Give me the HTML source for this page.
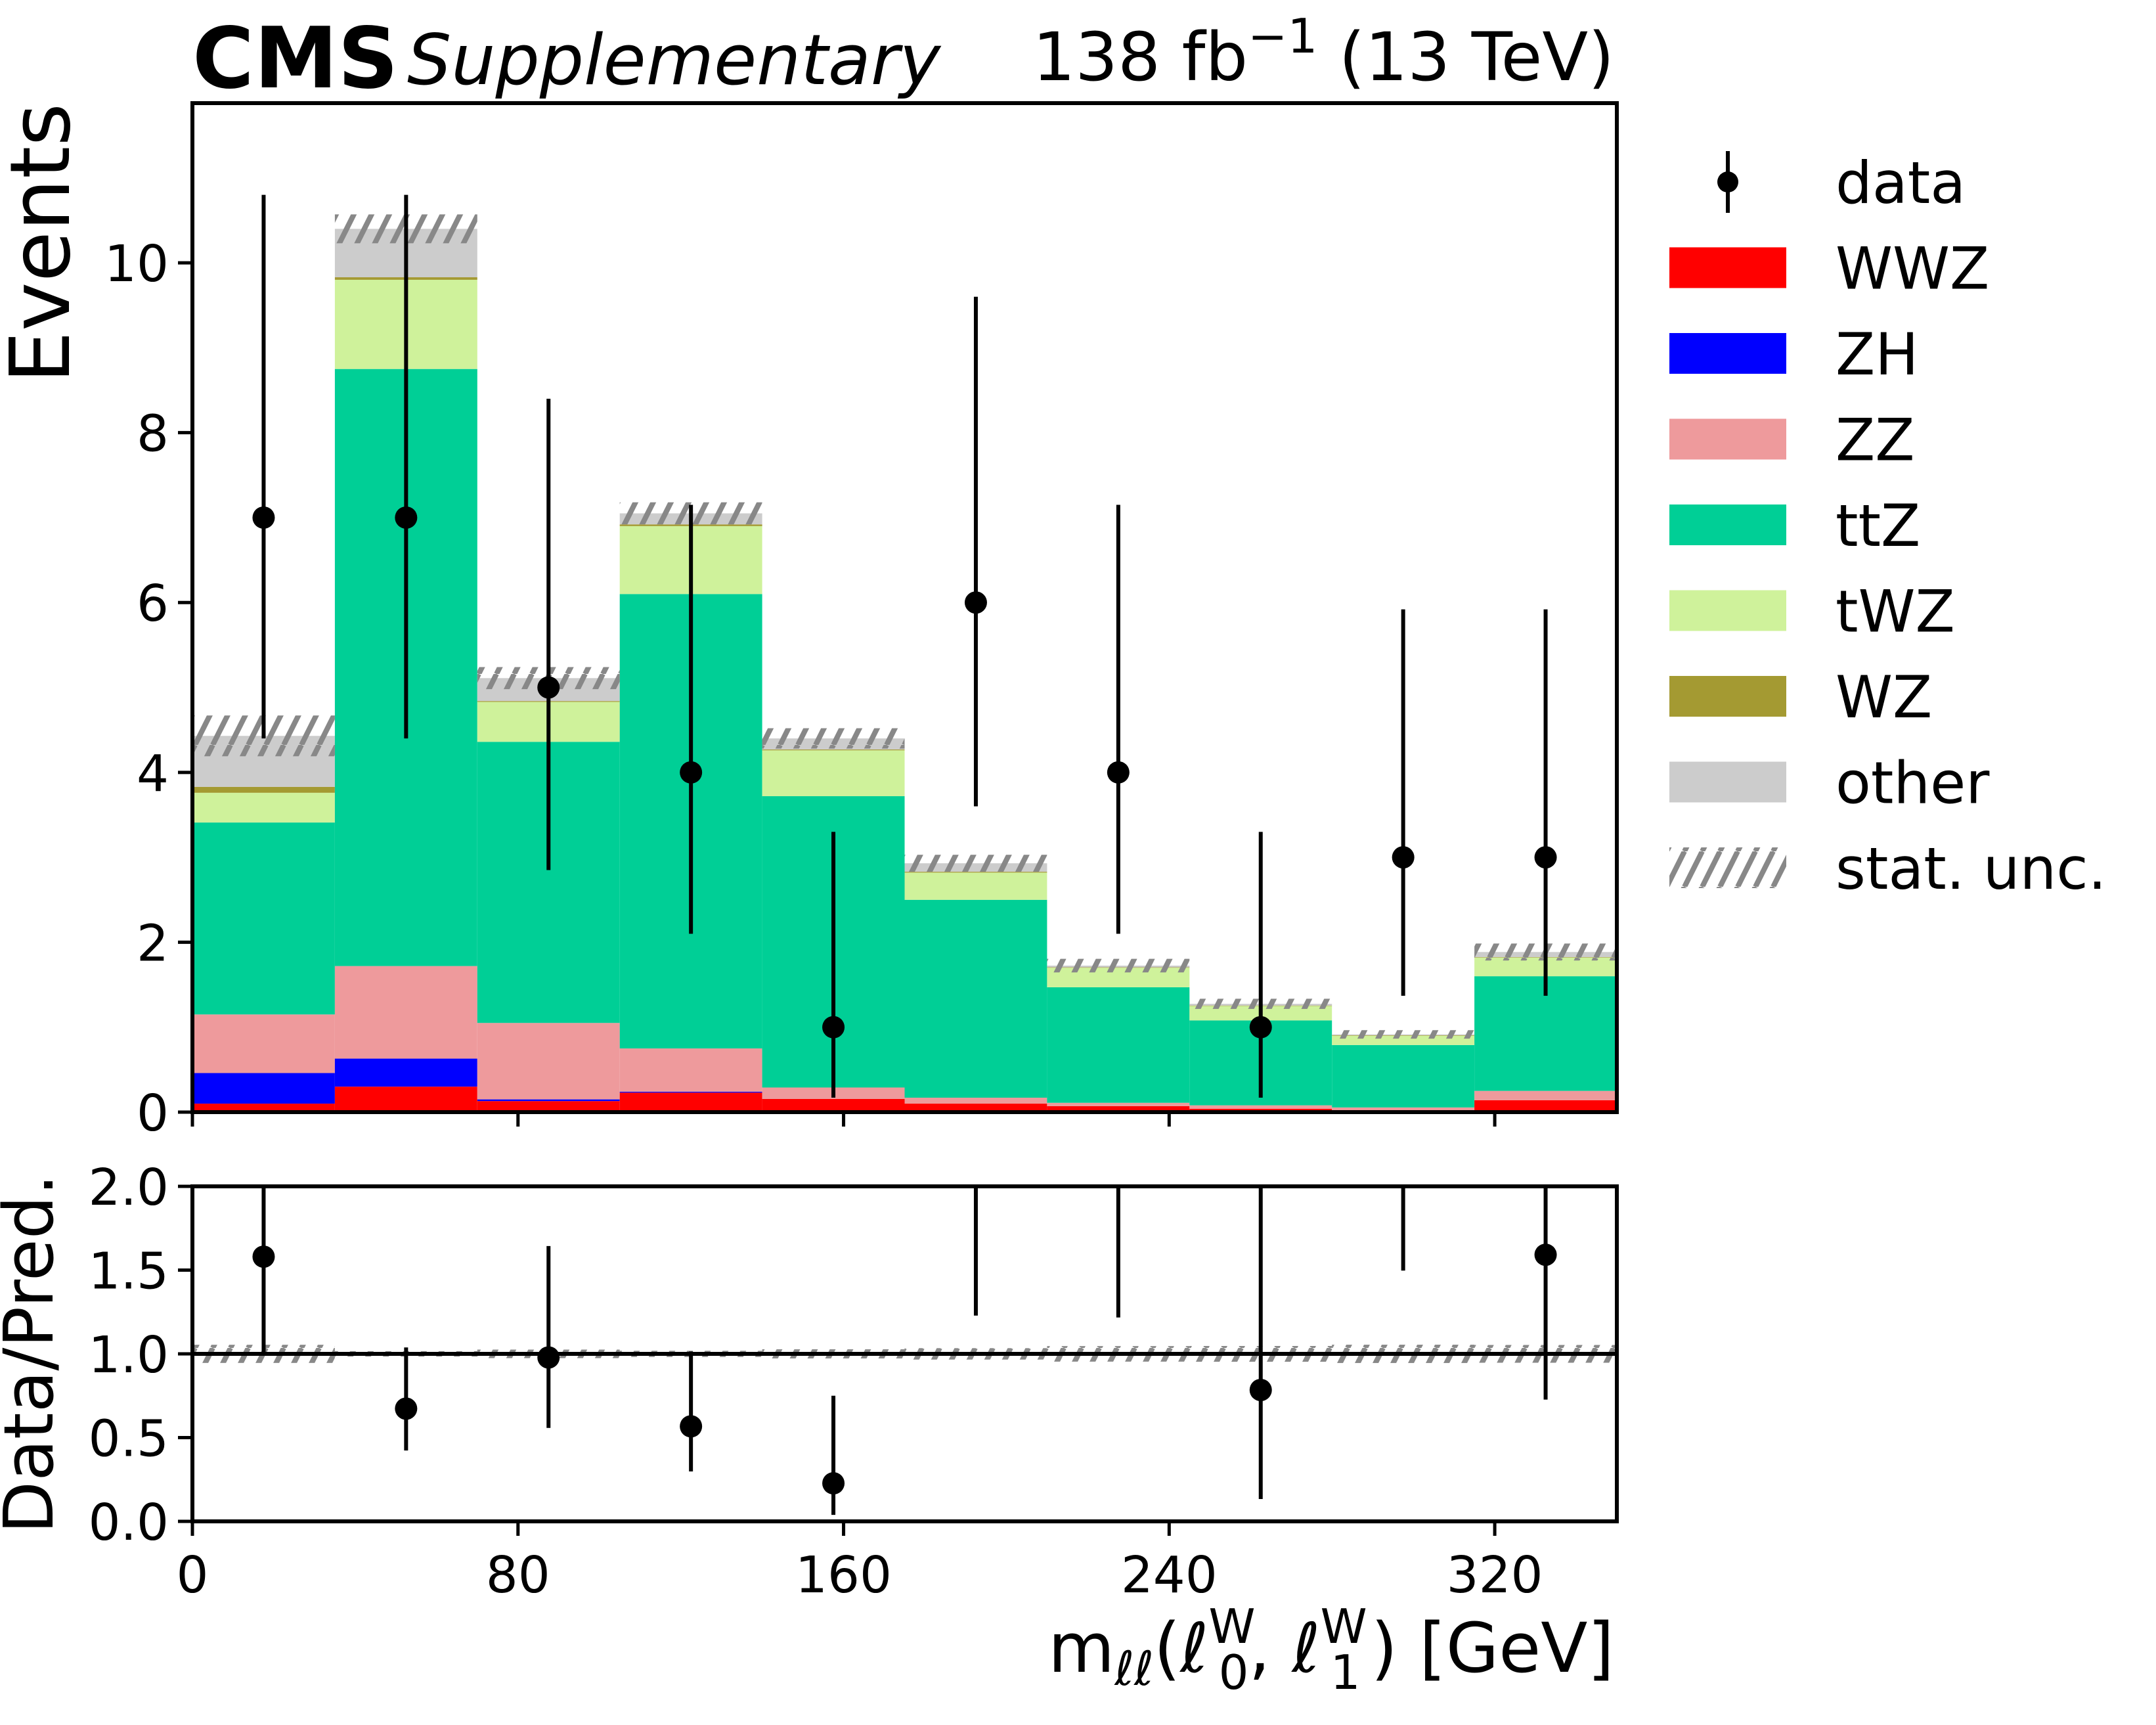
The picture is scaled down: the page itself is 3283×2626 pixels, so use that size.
<!DOCTYPE html>
<html><head><meta charset="utf-8"><style>
html,body{margin:0;padding:0;background:#fff;}
svg{display:block;font-family:"DejaVu Sans","Liberation Sans",sans-serif;}
</style></head><body>
<svg id="chart" xmlns="http://www.w3.org/2000/svg" width="3283" height="2626" viewBox="0 0 3283 2626">
<defs>
<pattern id="hatch" patternUnits="userSpaceOnUse" width="27" height="54">
<g stroke="#888" stroke-width="8" stroke-linecap="butt">
<line x1="0" y1="54" x2="27" y2="0"/><line x1="-27" y1="54" x2="0" y2="0"/><line x1="27" y1="54" x2="54" y2="0"/>
</g></pattern>
<clipPath id="clipMain"><rect x="293" y="157" width="2169" height="1536"/></clipPath>
<clipPath id="clipRatio"><rect x="293" y="1806" width="2169" height="510"/></clipPath>
</defs>
<g id="main"></g>
<g id="ratio"></g>
<g id="legend"></g>
<text x="293" y="133" font-size="128" font-weight="bold">CMS</text>
<text x="620" y="128" font-size="106" font-style="italic">Supplementary</text>
<text x="2458" y="122" font-size="102" text-anchor="end">138 fb<tspan font-size="72" dy="-42">−1</tspan><tspan dy="42"> (13 TeV)</tspan></text>
<text transform="translate(105,157) rotate(-90)" font-size="126" text-anchor="end">Events</text>
<text transform="translate(80,2061) rotate(-90)" font-size="104" text-anchor="middle">Data/Pred.</text>
<text x="2458" y="2545" font-size="104" text-anchor="end">m<tspan font-size="72" dy="20" font-style="italic">ℓℓ</tspan><tspan dy="-20">(</tspan><tspan font-style="italic">ℓ</tspan><tspan font-size="72" dx="0" dy="-44">W</tspan><tspan font-size="72" dx="-56" dy="70">0</tspan><tspan dy="-26">,  </tspan><tspan font-style="italic">ℓ</tspan><tspan font-size="72" dy="-44">W</tspan><tspan font-size="72" dx="-56" dy="70">1</tspan><tspan dx="16" dy="-26">) [GeV]</tspan></text>
</svg>
<script>
const binEdges = [0,35,70,105,140,175,210,245,280,315,350];
const dataCounts = [7,7,5,4,1,6,4,1,3,3];
const dataErrLow = [2.6,2.6,2.15,1.9,0.83,2.4,1.9,0.83,1.63,1.63];
const dataErrHigh = [3.8,3.8,3.4,3.15,2.3,3.6,3.15,2.3,2.92,2.92];
const wwz = [0.10,0.30,0.13,0.23,0.155,0.10,0.07,0.04,0.025,0.14];
const zh = [0.36,0.33,0.02,0.01,0,0,0,0,0,0];
const zz = [0.69,1.09,0.90,0.51,0.135,0.07,0.04,0.04,0.03,0.11];
const ttz = [2.26,7.03,3.31,5.35,3.43,2.33,1.36,1.00,0.735,1.35];
const twz = [0.35,1.05,0.47,0.80,0.54,0.32,0.23,0.17,0.11,0.22];
const wz = [0.07,0.03,0.01,0.02,0.01,0.01,0.005,0.005,0.005,0.005];
const other = [0.60,0.57,0.27,0.13,0.13,0.10,0.02,0.02,0.01,0.06];
const statErr = [0.24,0.17,0.13,0.13,0.12,0.10,0.08,0.06,0.05,0.10];
const xTicks = [0,80,160,240,320];
const yTicks = [0,2,4,6,8,10];
const ratioTicks = [0,0.5,1.0,1.5,2.0];
const ratioTickLabels = ["0.0","0.5","1.0","1.5","2.0"];

const NS="http://www.w3.org/2000/svg";
const X0=293,X1=2462,MT=157,MB=1693,RT=1806,RB=2316;
const XMAX=350,YMAX=11.88,RMIN=0,RMAX=2;
const xs=v=>X0+(v/XMAX)*(X1-X0);
const ys=v=>MB-(v/YMAX)*(MB-MT);
const rs=v=>RB-((v-RMIN)/(RMAX-RMIN))*(RB-RT);
function mk(tag,attrs,parent){const e=document.createElementNS(NS,tag);for(const k in attrs)e.setAttribute(k,attrs[k]);parent.appendChild(e);return e;}
const main=document.getElementById('main'),ratio=document.getElementById('ratio'),legend=document.getElementById('legend');
const procs=[["WWZ",wwz,"#ff0000"],["ZH",zh,"#0000ff"],["ZZ",zz,"#ee9a9c"],["ttZ",ttz,"#00cf96"],["tWZ",twz,"#cff29b"],["WZ",wz,"#a49a32"],["other",other,"#cccccc"]];
const gm=mk('g',{'clip-path':'url(#clipMain)'},main);
const totals=[];
for(let i=0;i<dataCounts.length;i++){
  let cum=0;const xa=xs(binEdges[i]),xb=xs(binEdges[i+1]);
  procs.forEach(p=>{const v=p[1][i];if(v<=0)return;
    const r=mk('rect',{x:xa,y:ys(cum+v),width:xb-xa,height:ys(cum)-ys(cum+v),fill:p[2]},gm);
    
    
    cum+=v;});
  totals.push(cum);
}
for(let i=0;i<totals.length;i++){
  const xa=xs(binEdges[i]),xb=xs(binEdges[i+1]);
  const h=mk('rect',{x:xa,y:ys(totals[i]+statErr[i]),width:xb-xa,height:ys(totals[i]-statErr[i])-ys(totals[i]+statErr[i]),fill:'url(#hatch)'},gm);
  
  
  const rh=mk('rect',{x:xa,y:rs(1+statErr[i]/totals[i]),width:xb-xa,height:rs(1-statErr[i]/totals[i])-rs(1+statErr[i]/totals[i]),fill:'url(#hatch)'},ratio);
  
  
}
mk('line',{x1:X0,y1:rs(1),x2:X1,y2:rs(1),stroke:'#000','stroke-width':6},ratio);
const gr=mk('g',{'clip-path':'url(#clipRatio)'},ratio);
for(let i=0;i<dataCounts.length;i++){
  const cx=xs((binEdges[i]+binEdges[i+1])/2);
  const d=dataCounts[i];
  const el=mk('line',{x1:cx,y1:ys(d-dataErrLow[i]),x2:cx,y2:ys(d+dataErrHigh[i]),stroke:'#000','stroke-width':6},main);
  
  
  const pt=mk('circle',{cx:cx,cy:ys(d),r:17,fill:'#000'},main);
  
  
  const t=totals[i],rv=d/t;
  const rl=mk('line',{x1:cx,y1:rs(Math.max(rv-dataErrLow[i]/t,-1)),x2:cx,y2:rs(Math.min(rv+dataErrHigh[i]/t,3)),stroke:'#000','stroke-width':6},gr);
  
  
  if(rv<=RMAX){const rp=mk('circle',{cx:cx,cy:rs(rv),r:17,fill:'#000'},gr);
    
    }
}
const f1=mk('rect',{x:X0,y:MT,width:X1-X0,height:MB-MT,fill:'none',stroke:'#000','stroke-width':6},main);

const f2=mk('rect',{x:X0,y:RT,width:X1-X0,height:RB-RT,fill:'none',stroke:'#000','stroke-width':6},ratio);

yTicks.forEach(v=>{const y=ys(v);mk('line',{x1:X0-22,y1:y,x2:X0,y2:y,stroke:'#000','stroke-width':5},main);
  const t=mk('text',{x:X0-36,y:y+28,'font-size':77,'text-anchor':'end'},main);t.textContent=v;
  });
ratioTicks.forEach((v,k)=>{const y=rs(v);mk('line',{x1:X0-22,y1:y,x2:X0,y2:y,stroke:'#000','stroke-width':5},ratio);
  const t=mk('text',{x:X0-36,y:y+28,'font-size':77,'text-anchor':'end'},ratio);t.textContent=ratioTickLabels[k];
  });
xTicks.forEach(v=>{const x=xs(v);mk('line',{x1:x,y1:MB,x2:x,y2:MB+22,stroke:'#000','stroke-width':5},main);
  mk('line',{x1:x,y1:RB,x2:x,y2:RB+22,stroke:'#000','stroke-width':5},ratio);
  const t=mk('text',{x:x,y:2424,'font-size':77,'text-anchor':'middle'},ratio);t.textContent=v;
  });
const LY0=277,LDY=130.5;
const items=[["data",null],["WWZ","#ff0000"],["ZH","#0000ff"],["ZZ","#ee9a9c"],["ttZ","#00cf96"],["tWZ","#cff29b"],["WZ","#a49a32"],["other","#cccccc"],["stat. unc.","url(#hatch)"]];
items.forEach((it,k)=>{const y=LY0+k*LDY;
  const g=mk('g',{},legend);
  
  
  if(it[1]===null){mk('line',{x1:2631,y1:y-47,x2:2631,y2:y+47,stroke:'#000','stroke-width':6},g);mk('circle',{cx:2631,cy:y,r:16,fill:'#000'},g);}
  else mk('rect',{x:2542,y:y-31,width:178,height:62,fill:it[1]},g);
  const t=mk('text',{x:2795,y:y+32,'font-size':88},g);t.textContent=it[0];});
</script>
</body></html>
